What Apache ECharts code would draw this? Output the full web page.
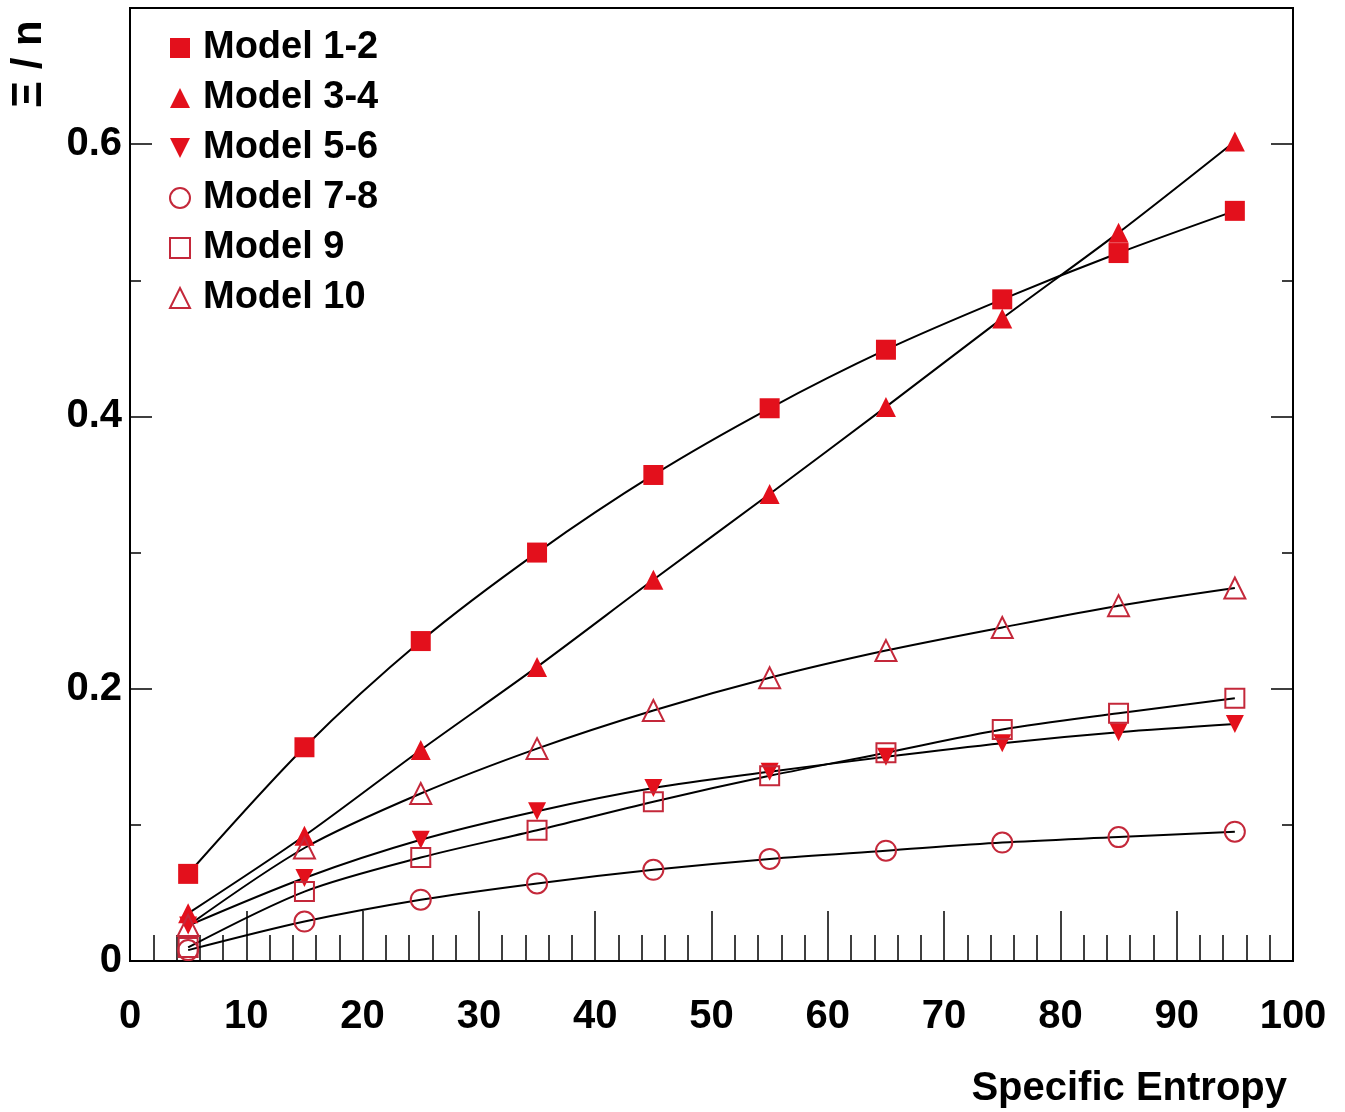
<!DOCTYPE html>
<html>
<head>
<meta charset="utf-8">
<script src="https://cdn.jsdelivr.net/npm/echarts@6/dist/echarts.min.js"></script>
<style>
  html, body { margin: 0; padding: 0; background: #fff; }
  #chart { width: 1345px; height: 1112px; }
</style>
</head>
<body>
<div id="chart"></div>
<script>
const entropy = [5, 15, 25, 35, 45, 55, 65, 75, 85, 95]

const model12 = [0.064, 0.157, 0.235, 0.300, 0.357, 0.406, 0.449, 0.486, 0.520, 0.551]
const model34 = [0.035, 0.092, 0.155, 0.216, 0.280, 0.343, 0.407, 0.472, 0.535, 0.602]
const model56 = [0.026, 0.061, 0.089, 0.110, 0.127, 0.139, 0.150, 0.160, 0.168, 0.174]
const model78 = [0.008, 0.029, 0.045, 0.057, 0.067, 0.075, 0.081, 0.087, 0.091, 0.095]
const model9 = [0.010, 0.051, 0.076, 0.096, 0.117, 0.136, 0.153, 0.170, 0.182, 0.193]
const model10 = [0.026, 0.083, 0.123, 0.156, 0.184, 0.208, 0.228, 0.245, 0.261, 0.274]

const xTicks = { min: 0, max: 100, interval: 10 }
const yTicks = { min: 0, max: 0.7, major: 0.2, minor: 0.1 }

const RED = '#e3101c'
const RED_EDGE = '#c4283a'
const FONT = 'Liberation Sans'
const DOWN_TRI = 'path://M0,0 L10,0 L5,10 Z'

const gridRect = { left: 130, right: 52, top: 8, bottom: 151, outerBoundsMode: 'none' }

const pairs = (ys) => entropy.map((x, i) => [x, ys[i]])

const filled = (name, values, symbol, size) => ({
  name,
  type: 'line',
  smooth: 0.3,
  symbol,
  symbolSize: size,
  showAllSymbol: true,
  lineStyle: { color: '#000', width: 2 },
  itemStyle: { color: RED },
  data: pairs(values)
})

const open = (name, values, symbol, size) => ({
  name,
  type: 'line',
  smooth: 0.3,
  symbol,
  symbolSize: size,
  showAllSymbol: true,
  lineStyle: { color: '#000', width: 2 },
  itemStyle: { color: 'rgba(255,255,255,0)', borderColor: RED_EDGE, borderWidth: 2 },
  data: pairs(values)
})

// one y axis per side and grid; left minor axis keeps invisible labels, otherwise its ticks vanish
const tickAxis = (gridIndex, position, interval, length, labelColor) => ({
  type: 'value',
  gridIndex,
  position,
  min: yTicks.min,
  max: yTicks.max,
  interval,
  axisLine: { show: true, onZero: false, lineStyle: { color: '#000', width: 2 } },
  axisTick: { show: true, inside: true, length, lineStyle: { color: '#000', width: 1.5 } },
  axisLabel: {
    show: labelColor !== null,
    showMaxLabel: false,
    margin: 8,
    color: labelColor || '#000',
    fontFamily: FONT,
    fontWeight: 'bold',
    fontSize: 40
  },
  splitLine: { show: false }
})

const chart = echarts.init(document.getElementById('chart'))

chart.setOption({
  backgroundColor: '#fff',
  animation: false,
  title: {
    text: 'Specific Entropy',
    right: 53,
    top: 1064,
    textStyle: { color: '#000', fontFamily: FONT, fontWeight: 'bold', fontSize: 40 }
  },
  graphic: [{
    type: 'text',
    x: 8,
    y: 108,
    rotation: Math.PI / 2,
    style: {
      text: 'Ξ / n',
      fill: '#000',
      font: 'bold 42px "Liberation Sans"'
    }
  }],
  grid: [
    Object.assign({ show: true, borderColor: '#000', borderWidth: 2, backgroundColor: 'transparent' }, gridRect),
    Object.assign({ show: false }, gridRect)
  ],
  legend: {
    orient: 'vertical',
    left: 164,
    top: 24,
    itemWidth: 20,
    itemHeight: 20,
    itemGap: 12,
    textStyle: {
      color: '#000',
      fontFamily: FONT,
      fontWeight: 'bold',
      fontSize: 38,
      lineHeight: 38,
      padding: [0, 0, 0, 8]
    },
    data: [
      { name: 'Model 1-2', icon: 'rect' },
      { name: 'Model 3-4', icon: 'triangle' },
      { name: 'Model 5-6', icon: DOWN_TRI },
      { name: 'Model 7-8', icon: 'circle' },
      { name: 'Model 9', icon: 'rect' },
      { name: 'Model 10', icon: 'triangle' }
    ]
  },
  xAxis: [{
    type: 'value',
    gridIndex: 0,
    min: xTicks.min,
    max: xTicks.max,
    interval: xTicks.interval,
    axisLine: { onZero: false, lineStyle: { color: '#000', width: 2 } },
    axisTick: { inside: true, length: 50, lineStyle: { color: '#000', width: 1.5 } },
    minorTick: { show: true, splitNumber: 5, length: 26, lineStyle: { color: '#000', width: 1.5 } },
    axisLabel: {
      margin: 36,
      color: '#000',
      fontFamily: FONT,
      fontWeight: 'bold',
      fontSize: 40
    },
    splitLine: { show: false }
  }, {
    type: 'value',
    gridIndex: 1,
    show: false,
    min: xTicks.min,
    max: xTicks.max
  }],
  yAxis: [
    tickAxis(0, 'left', yTicks.minor, 11, 'rgba(0,0,0,0)'),
    tickAxis(0, 'right', yTicks.major, 22, null),
    tickAxis(1, 'left', yTicks.major, 22, '#000'),
    tickAxis(1, 'right', yTicks.minor, 11, null)
  ],
  series: [
    filled('Model 1-2', model12, 'rect', 20),
    filled('Model 3-4', model34, 'triangle', 20),
    filled('Model 5-6', model56, DOWN_TRI, 18),
    open('Model 7-8', model78, 'circle', 20),
    open('Model 9', model9, 'rect', 19),
    open('Model 10', model10, 'triangle', 21)
  ]
})
</script>
</body>
</html>
